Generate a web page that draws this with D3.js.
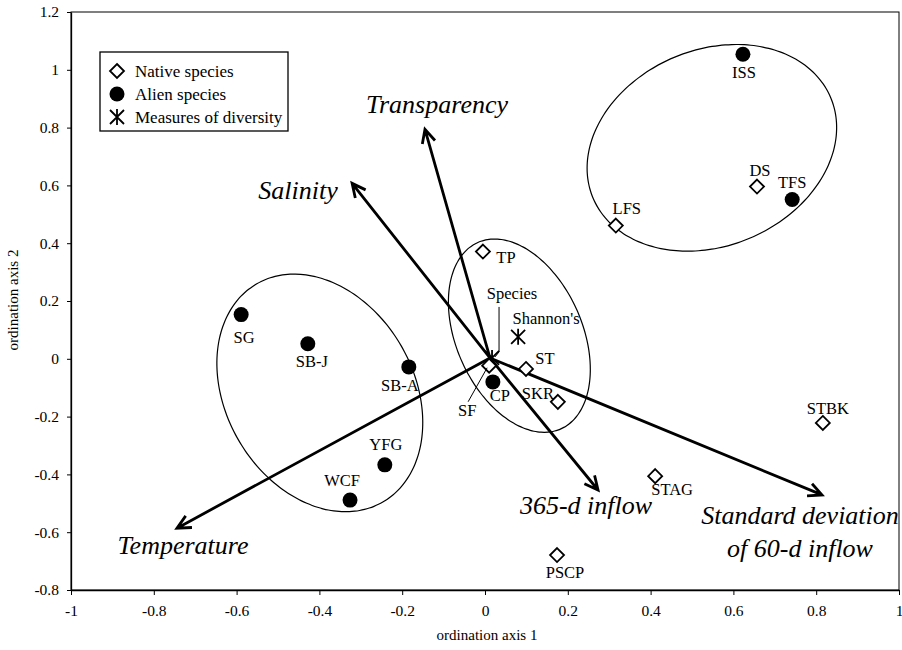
<!DOCTYPE html>
<html><head><meta charset="utf-8">
<script src="https://cdn.jsdelivr.net/npm/d3@7"></script>
<style>
body{margin:0;background:#fff}
text{font-family:"Liberation Serif","Times New Roman",serif;fill:#000}
</style>
</head><body>
<svg id="chart" width="902" height="650"></svg>
<script>
// ---------------- data ----------------
const nativeNames = ["TP","LFS","DS","ST","SKR","SF","STBK","STAG","PSCP"];
const nativeX     = [-0.005, 0.316, 0.657, 0.099, 0.176, 0.010, 0.816, 0.411, 0.174];
const nativeY     = [ 0.371, 0.461, 0.596,-0.035,-0.149,-0.024,-0.222,-0.406,-0.679];

const alienNames = ["ISS","TFS","SG","SB-J","SB-A","YFG","WCF","CP"];
const alienX     = [0.623, 0.742,-0.589,-0.428,-0.184,-0.242,-0.326, 0.019];
const alienY     = [1.054, 0.551, 0.153, 0.052,-0.028,-0.367,-0.489,-0.080];

const diversityNames = ["Species","Shannon's"];
const diversityX     = [0.017, 0.080];
const diversityY     = [0.003, 0.076];

const vectorNames = [["Transparency"],["Salinity"],["Temperature"],["365-d inflow"],["Standard deviation","of 60-d inflow"]];
const vectorX     = [-0.145,-0.321,-0.744, 0.273, 0.814];
const vectorY     = [ 0.794, 0.607,-0.586,-0.454,-0.471];
const vectorOrigin = [0.012, 0.003];

const xTicks = [-1,-0.8,-0.6,-0.4,-0.2,0,0.2,0.4,0.6,0.8,1];
const yTicks = [-0.8,-0.6,-0.4,-0.2,0,0.2,0.4,0.6,0.8,1,1.2];
const legendLabels = ["Native species","Alien species","Measures of diversity"];

// ---------------- layout (pixel offsets / sizes) ----------------
const labelOffsets = {
  "TP":[23,5],"LFS":[11,-18],"DS":[3,-17],"ST":[19,-11],"SKR":[-20,-9],"SF":[-22,44],
  "STBK":[5,-15],"STAG":[17,13],"PSCP":[8,17],
  "ISS":[1,18],"TFS":[0,-18],"SG":[3,22],"SB-J":[4,17],"SB-A":[-9,18],"YFG":[1,-21],"WCF":[-8,-20],"CP":[7,13],
  "Species":[20,-65],"Shannon's":[28,-19]
};
const leaders = {
  "Species":[[7,-51],[7,-6],[3,-1]],
  "SF":[[-21,36],[-2,2]]
};
const vectorLabelPos = [[437,104],[298,190],[183,545],[586,505],[800,515]];
const ellipses = [ // center in data units, semi-axes in px, rotation in degrees
  {cx:0.548, cy:0.730, a:129, b:98, rot:-23},
  {cx:-0.399, cy:-0.118, a:126, b:94, rot:60},
  {cx:0.083, cy:0.080, a:102, b:63, rot:66}
];

// ---------------- drawing ----------------
const svg = d3.select("#chart");
svg.append("rect").attr("width",902).attr("height",650).attr("fill","#fff");

const x = d3.scaleLinear().domain([-1,1]).range([71,899]);
const y = d3.scaleLinear().domain([-0.8,1.2]).range([590,12]);

// frame
svg.append("rect").attr("x",x(-1)).attr("y",y(1.2))
  .attr("width",x(1)-x(-1)).attr("height",y(-0.8)-y(1.2))
  .attr("fill","none").attr("stroke","#000").attr("stroke-width",1);

const fmt = d => String(+d.toFixed(1));   // plain hyphen-minus like the original
const xAxis = svg.append("g").attr("transform",`translate(0,${y(-0.8)})`)
  .call(d3.axisBottom(x).tickValues(xTicks).tickSize(5).tickSizeOuter(0).tickPadding(10).tickFormat(fmt));
const yAxis = svg.append("g").attr("transform",`translate(${x(-1)},0)`)
  .call(d3.axisLeft(y).tickValues(yTicks).tickSize(4).tickSizeOuter(0).tickPadding(8).tickFormat(fmt));
[xAxis,yAxis].forEach(g=>{
  g.attr("font-family",null);
  g.select(".domain").attr("stroke","#000").attr("stroke-width",1.3);
  g.selectAll(".tick line").attr("stroke","#000");
  g.selectAll("text").style("font-family","'Liberation Serif', serif").attr("font-size",15.5).attr("fill","#000");
});

svg.append("text").attr("x",487).attr("y",640).attr("text-anchor","middle")
  .attr("font-size",15).text("ordination axis 1");
svg.append("text").attr("transform","translate(18,300) rotate(-90)").attr("text-anchor","middle")
  .attr("font-size",15).text("ordination axis 2");

// ellipses
ellipses.forEach(e=>{
  const cx = x(e.cx), cy = y(e.cy), r = e.rot*Math.PI/180;
  const pts = d3.range(0,360,3).map(t=>{
    const tt=t*Math.PI/180, u=e.a*Math.cos(tt), v=e.b*Math.sin(tt);
    return [cx+u*Math.cos(r)-v*Math.sin(r), cy+u*Math.sin(r)+v*Math.cos(r)];
  });
  svg.append("path").attr("d",d3.line().curve(d3.curveCardinalClosed)(pts))
    .attr("fill","none").attr("stroke","#000").attr("stroke-width",1.2);
});

// vectors
const ox = x(vectorOrigin[0]), oy = y(vectorOrigin[1]);
vectorNames.forEach((nm,i)=>{
  const tx = x(vectorX[i]), ty = y(vectorY[i]);
  const ang = Math.atan2(ty-oy, tx-ox), L=15, th=26*Math.PI/180;
  const h1=[tx-L*Math.cos(ang-th), ty-L*Math.sin(ang-th)];
  const h2=[tx-L*Math.cos(ang+th), ty-L*Math.sin(ang+th)];
  svg.append("path").attr("d",`M${ox},${oy}L${tx},${ty}M${h1[0]},${h1[1]}L${tx},${ty}L${h2[0]},${h2[1]}`)
    .attr("fill","none").attr("stroke","#000").attr("stroke-width",2.8).attr("stroke-linejoin","miter");
  const t = svg.append("text").attr("font-style","italic").attr("font-size",26).attr("text-anchor","middle")
    .attr("x",vectorLabelPos[i][0]).attr("y",vectorLabelPos[i][1]+9);
  nm.forEach((line,j)=>t.append("tspan").attr("x",vectorLabelPos[i][0]).attr("dy",j?33:0).text(line));
});

// symbol helpers
const diamondPath = s=>`M0,${-s}L${s},0L0,${s}L${-s},0Z`;
function drawDiamond(g,px,py){ g.append("path").attr("d",diamondPath(7)).attr("transform",`translate(${px},${py})`)
  .attr("fill","#fff").attr("stroke","#000").attr("stroke-width",1.8); }
function drawCircle(g,px,py){ g.append("circle").attr("cx",px).attr("cy",py).attr("r",7.5).attr("fill","#000"); }
function drawStar(g,px,py){ g.append("path").attr("transform",`translate(${px},${py})`)
  .attr("d","M-7,-7L7,7M7,-7L-7,7M0,-8L0,8").attr("stroke","#000").attr("stroke-width",1.8).attr("fill","none"); }

const pts = svg.append("g");
function label(name,px,py){
  const o = labelOffsets[name];
  pts.append("text").attr("x",px+o[0]).attr("y",py+o[1]+6).attr("text-anchor","middle")
    .attr("font-size",16.5).text(name);
  if(leaders[name]){
    pts.append("path").attr("d",d3.line()(leaders[name].map(p=>[px+p[0],py+p[1]])))
      .attr("fill","none").attr("stroke","#000").attr("stroke-width",1);
  }
}
diversityNames.forEach((n,i)=>{ const px=x(diversityX[i]),py=y(diversityY[i]); drawStar(pts,px,py); label(n,px,py); });
nativeNames.forEach((n,i)=>{ const px=x(nativeX[i]),py=y(nativeY[i]); drawDiamond(pts,px,py); label(n,px,py); });
alienNames.forEach((n,i)=>{ const px=x(alienX[i]),py=y(alienY[i]); drawCircle(pts,px,py); label(n,px,py); });

// legend
const lg = svg.append("g");
lg.append("rect").attr("x",100).attr("y",52).attr("width",188).attr("height",79)
  .attr("fill","#fff").attr("stroke","#000").attr("stroke-width",1.3);
const drawers=[drawDiamond,drawCircle,drawStar];
legendLabels.forEach((l,i)=>{
  const cy = 71+i*23;
  drawers[i](lg,117,cy);
  lg.append("text").attr("x",135).attr("y",cy+6).attr("font-size",17).text(l);
});
</script>
</body></html>
